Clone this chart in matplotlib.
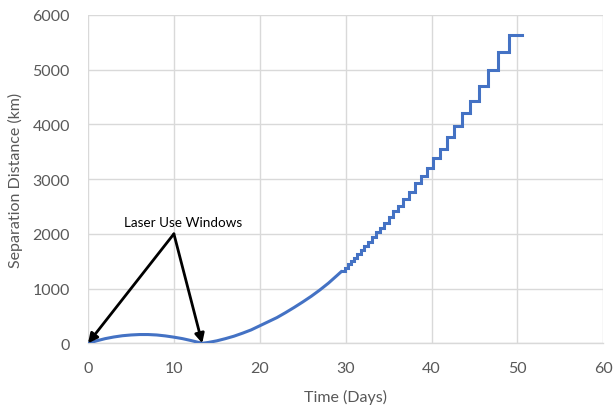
import matplotlib
matplotlib.use("Agg")
import matplotlib.pyplot as plt

# Smooth early part of the separation curve (days, km)
smooth_t = [0, 1, 2, 3, 4, 5, 6, 7, 8, 9, 10, 11, 12, 13.3, 14, 15, 16, 17, 18,
            19, 20, 21, 22, 23, 24, 25, 26, 27, 28, 29, 29.6]
smooth_d = [0, 45, 85, 115, 138, 152, 160, 160, 152, 135, 112, 85, 50, 0, 15, 45,
            85, 130, 185, 245, 320, 395, 470, 560, 655, 755, 860, 975, 1100, 1240, 1325]

# Stepped later part (step start time, level)
step_t = [29.6, 29.95, 30.3, 30.65, 30.97, 31.35,
          31.78, 32.17, 32.63, 33.10, 33.49, 33.99, 34.49, 35.04, 35.54, 36.12,
          36.71, 37.40, 38.07, 38.77, 39.43, 40.13, 40.98, 41.83, 42.64, 43.57,
          44.51, 45.55, 46.60, 47.76, 49.05, 50.49]
step_d = [1325, 1385, 1445, 1505, 1560, 1630,
          1705, 1780, 1860, 1945, 2036, 2116, 2207, 2299, 2409, 2512, 2634, 2768,
          2921, 3049, 3201, 3378, 3549, 3768, 3964, 4201, 4432, 4707, 4994, 5317,
          5640, 5640]

x_ticks = [0, 10, 20, 30, 40, 50, 60]
y_ticks = [0, 1000, 2000, 3000, 4000, 5000, 6000]

annot_text = "Laser Use Windows"
annot_src = (10, 2000)
annot_targets = [(0, 0), (13.3, 0)]

plt.rcParams['font.family'] = ['Lato', 'DejaVu Sans']

fig = plt.figure(figsize=(6.15, 4.06), dpi=100)
ax = fig.add_axes([0.1431, 0.152, 0.981 - 0.1431, 0.9606 - 0.152])

color = '#4472C4'
ax.plot(smooth_t, smooth_d, color=color, lw=2.2, solid_capstyle='butt', zorder=3)
ax.plot(step_t, step_d, color=color, lw=2.2, drawstyle='steps-post',
        solid_joinstyle='miter', zorder=3)

ax.set_xlim(0, 60)
ax.set_ylim(0, 6000)
ax.set_xticks(x_ticks)
ax.set_yticks(y_ticks)
ax.grid(True, color='#D9D9D9', lw=1)
ax.set_axisbelow(True)
for s in ['top', 'right', 'left']:
    ax.spines[s].set_visible(False)
ax.spines['bottom'].set_color('#D9D9D9')
ax.spines['bottom'].set_linewidth(1)
ax.tick_params(axis='both', length=0, labelsize=11.5, labelcolor='#595959')
ax.tick_params(axis='y', pad=13)
ax.tick_params(axis='x', pad=13)

ax.set_xlabel('Time (Days)', fontsize=11.5, color='#595959', labelpad=10)
ax.set_ylabel('Separation Distance (km)', fontsize=11.5, color='#595959', labelpad=7)

for tgt in annot_targets:
    ax.annotate('', xy=tgt, xytext=annot_src,
                arrowprops=dict(arrowstyle='-|>', color='black', lw=2,
                                mutation_scale=14, shrinkA=0, shrinkB=0),
                zorder=4)
ax.text(annot_src[0] + 1.1, annot_src[1] + 110, annot_text, ha='center', va='bottom',
        fontsize=9.7, color='black')

fig.savefig('out.png', dpi=100)
